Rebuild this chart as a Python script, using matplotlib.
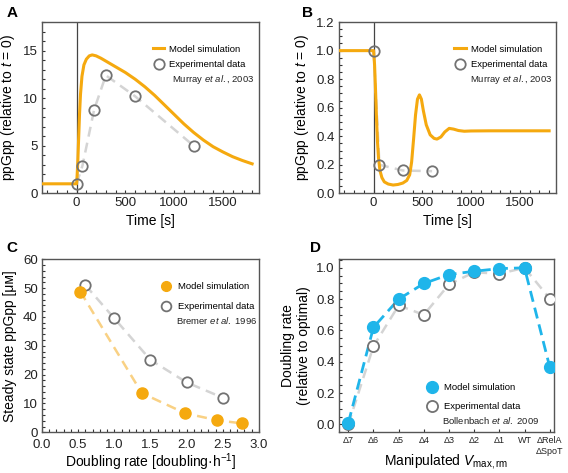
import numpy as np
import matplotlib
matplotlib.use('Agg')
import matplotlib.pyplot as plt
from matplotlib.ticker import MultipleLocator
from matplotlib.lines import Line2D

plt.rcParams['font.family'] = ['Liberation Sans', 'DejaVu Sans']
plt.rcParams['mathtext.fontset'] = 'custom'
plt.rcParams['mathtext.rm'] = 'Liberation Sans'
plt.rcParams['mathtext.it'] = 'Liberation Sans:italic'

# ---- data ----
# A: ppGpp after amino acid starvation
a_t = [-350, 0, 5, 12, 20, 30, 40, 55, 75, 100, 130, 160, 200, 250, 300, 400, 500,
       600, 700, 800, 900, 1000, 1100, 1200, 1300, 1400, 1500, 1600, 1700, 1800]
a_model = [1, 1, 1.8, 3.2, 5.5, 8.3, 10.4, 12.3, 13.5, 14.1, 14.45, 14.55, 14.45, 14.2,
           13.9, 13.3, 12.7, 12.0, 11.2, 10.3, 9.3, 8.3, 7.3, 6.4, 5.6, 4.9, 4.35, 3.85,
           3.45, 3.1]
a_exp_t = [0, 60, 180, 300, 600, 1200]
a_exp = [1.0, 2.9, 8.8, 12.4, 10.2, 5.0]

# B: ppGpp after glucose upshift
b_t = [-350, 0, 10, 20, 30, 40, 50, 65, 85, 110, 150, 200, 250, 300, 340, 370, 390, 410,
       430, 450, 470, 490, 510, 540, 580, 620, 650, 690, 730, 775, 820, 870, 930, 1000,
       1200, 1800]
b_model = [1, 1, 0.9, 0.72, 0.52, 0.36, 0.25, 0.16, 0.11, 0.08, 0.065, 0.058, 0.062,
           0.072, 0.09, 0.13, 0.22, 0.38, 0.55, 0.66, 0.69, 0.66, 0.58, 0.48, 0.41,
           0.385, 0.38, 0.395, 0.43, 0.455, 0.45, 0.44, 0.435, 0.437, 0.438, 0.438]
b_exp_t = [0, 60, 300, 600]
b_exp = [1.0, 0.2, 0.16, 0.155]

# C: steady state ppGpp vs doubling rate
c_model_x = [0.53, 1.38, 1.98, 2.42, 2.76]
c_model_y = [48.8, 13.6, 6.6, 4.2, 3.1]
c_exp_x = [0.6, 1.0, 1.5, 2.0, 2.5]
c_exp_y = [51.0, 39.5, 25.1, 17.3, 12.0]

# D: doubling rate for manipulated Vmax,rm
d_labels = ['Δ7', 'Δ6', 'Δ5', 'Δ4', 'Δ3', 'Δ2', 'Δ1', 'WT', 'ΔRelA\nΔSpoT']
d_model = [0.01, 0.62, 0.80, 0.90, 0.957, 0.978, 0.995, 1.0, 0.368]
d_exp = [0.0, 0.50, 0.76, 0.70, 0.894, 0.972, 0.962, 1.0, 0.804]

orange = '#f5a90f'
orange_light = '#f9d184'
blue = '#1fb5ea'
grey_edge = '#727272'
grey_dash = '#d4d4d4'
frame = '#555555'
fs_tick = 9.5
fs_label = 10
fs_leg = 6.8
W, H = 568.0, 473.0

fig = plt.figure(figsize=(5.68, 4.73), dpi=100)
axA = fig.add_axes([0.0739, 0.5913, 0.382, 0.362])
axB = fig.add_axes([0.5968, 0.5913, 0.382, 0.362])
axC = fig.add_axes([0.0739, 0.086, 0.382, 0.366])
axD = fig.add_axes([0.5968, 0.086, 0.3785, 0.366])


def style(ax):
    for s in ax.spines.values():
        s.set_color(frame)
        s.set_linewidth(1.0)
    ax.tick_params(which='both', direction='in', top=False, right=False,
                   length=2.5, width=0.8, color='#333333', labelsize=fs_tick,
                   labelcolor='#222222', pad=3)


def ptext(px, py, s):
    # small legend note placed in figure pixels
    fig.text(px / W, 1 - py / H, s, fontsize=fs_leg, va='center', ha='left',
             color='#222222')


circ = dict(ls='none', marker='o', mfc='white', mec=grey_edge, mew=1.3)

# ---- A ----
style(axA)
axA.axvline(0, color='#444444', lw=0.9, zorder=1)
axA.plot(a_exp_t, a_exp, ls=(0, (4, 2.5)), color=grey_dash, lw=1.8, zorder=2)
axA.plot(a_t, a_model, color=orange, lw=2.2, zorder=3)
axA.plot(a_exp_t, a_exp, ls='none', marker='o', ms=7.5, mfc='none', mec=grey_edge,
         mew=1.3, zorder=4)
axA.set_xlim(-355, 1870)
axA.set_ylim(0, 18)
axA.xaxis.set_major_locator(MultipleLocator(500))
axA.xaxis.set_minor_locator(MultipleLocator(100))
axA.yaxis.set_major_locator(MultipleLocator(5))
axA.yaxis.set_minor_locator(MultipleLocator(1))
axA.set_xlabel('Time [s]', fontsize=fs_label, labelpad=3)
axA.set_ylabel('ppGpp (relative to $t$ = 0)', fontsize=fs_label, labelpad=4)
hA = [Line2D([], [], color=orange, lw=2.2),
      Line2D([], [], ms=7.5, **circ)]
axA.legend(hA, ['Model simulation', 'Experimental data'], loc='upper left',
           bbox_to_anchor=(0.49, 0.895), frameon=False, fontsize=fs_leg,
           handlelength=1.2, handletextpad=0.5, labelspacing=0.65, borderpad=0)
ptext(172, 79, 'Murray $et\\ al.$, 2003')

# ---- B ----
style(axB)
axB.axvline(0, color='#444444', lw=0.9, zorder=1)
axB.plot(b_exp_t, b_exp, ls=(0, (4, 2.5)), color=grey_dash, lw=1.8, zorder=2)
axB.plot(b_t, b_model, color=orange, lw=2.2, zorder=3)
axB.plot(b_exp_t, b_exp, ls='none', marker='o', ms=7.5, mfc='none', mec=grey_edge,
         mew=1.3, zorder=4)
axB.set_xlim(-355, 1870)
axB.set_ylim(0, 1.2)
axB.xaxis.set_major_locator(MultipleLocator(500))
axB.xaxis.set_minor_locator(MultipleLocator(100))
axB.yaxis.set_major_locator(MultipleLocator(0.2))
axB.yaxis.set_minor_locator(MultipleLocator(0.05))
axB.yaxis.set_major_formatter('{x:.1f}')
axB.set_xlabel('Time [s]', fontsize=fs_label, labelpad=3)
axB.set_ylabel('ppGpp (relative to $t$ = 0)', fontsize=fs_label, labelpad=4)
axB.legend(hA, ['Model simulation', 'Experimental data'], loc='upper left',
           bbox_to_anchor=(0.51, 0.895), frameon=False, fontsize=fs_leg,
           handlelength=1.2, handletextpad=0.6, labelspacing=0.65, borderpad=0)
ptext(470, 79, 'Murray $et\\ al.$, 2003')

# ---- C ----
style(axC)
axC.tick_params(axis='x', pad=4.5)
axC.plot(c_exp_x, c_exp_y, ls=(0, (4, 2.5)), color=grey_dash, lw=1.8, zorder=2)
axC.plot(c_model_x, c_model_y, ls=(0, (4, 2.5)), color=orange_light, lw=1.8, zorder=2)
axC.plot(c_exp_x, c_exp_y, ms=7.5, zorder=4, **circ)
axC.plot(c_model_x, c_model_y, ls='none', marker='o', ms=8, mfc=orange, mec=orange,
         zorder=4)
axC.set_xlim(0, 3)
axC.set_ylim(0, 60)
axC.xaxis.set_major_locator(MultipleLocator(0.5))
axC.xaxis.set_minor_locator(MultipleLocator(0.1))
axC.yaxis.set_major_locator(MultipleLocator(10))
axC.yaxis.set_minor_locator(MultipleLocator(2))
axC.xaxis.set_major_formatter('{x:.1f}')
axC.set_xlabel('Doubling rate [doubling·h$^{-1}$]', fontsize=fs_label)
axC.xaxis.set_label_coords(0.5, -0.108)
axC.set_ylabel('Steady state ppGpp [μᴍ]', fontsize=fs_label, labelpad=4)
hc = [Line2D([], [], ls='none', marker='o', ms=7, mfc=orange, mec=orange),
      Line2D([], [], ms=7, **circ)]
axC.legend(hc, ['Model simulation', 'Experimental data'], loc='upper left',
           bbox_to_anchor=(0.53, 0.895), frameon=False, fontsize=fs_leg,
           handlelength=1.0, handletextpad=0.7, labelspacing=1.15, borderpad=0)
ptext(176, 320, 'Bremer $et\\ al.$ 1996')

# ---- D ----
style(axD)
xd = np.arange(len(d_labels))
axD.plot(xd, d_exp, ls=(0, (4, 2.5)), color=grey_dash, lw=1.8, zorder=2)
axD.plot(xd, d_model, ls=(0, (4, 2.2)), color=blue, lw=2.0, zorder=3)
axD.plot(xd, d_exp, ms=8, zorder=4, **circ)
axD.plot(xd, d_model, ls='none', marker='o', ms=8.5, mfc=blue, mec=blue, zorder=5)
axD.set_xlim(-0.37, 8.17)
axD.set_ylim(-0.05, 1.055)
axD.set_xticks(xd)
axD.set_xticklabels(d_labels, fontsize=6.5)
axD.yaxis.set_major_locator(MultipleLocator(0.2))
axD.yaxis.set_minor_locator(MultipleLocator(0.05))
axD.yaxis.set_major_formatter('{x:.1f}')
axD.set_xlabel('Manipulated $V_{\\mathrm{max,rm}}$', fontsize=fs_label)
axD.xaxis.set_label_coords(0.5, -0.115)
axD.set_ylabel('Doubling rate\n(relative to optimal)', fontsize=fs_label, labelpad=4)
hd = [Line2D([], [], ls='none', marker='o', ms=8.5, mfc=blue, mec=blue),
      Line2D([], [], ms=8, **circ)]
axD.legend(hd, ['Model simulation', 'Experimental data'], loc='upper left',
           bbox_to_anchor=(0.39, 0.313), frameon=False, fontsize=fs_leg,
           handlelength=1.0, handletextpad=0.7, labelspacing=1.1, borderpad=0)
ptext(442, 420, 'Bollenbach $et\\ al.$ 2009')

# panel letters
for lab, x, y in [('A', 0.012, 0.988), ('B', 0.532, 0.988), ('C', 0.012, 0.49),
                  ('D', 0.546, 0.49)]:
    fig.text(x, y, lab, fontsize=11, fontweight='bold', va='top', ha='left')

fig.savefig('out.png', dpi=100)
